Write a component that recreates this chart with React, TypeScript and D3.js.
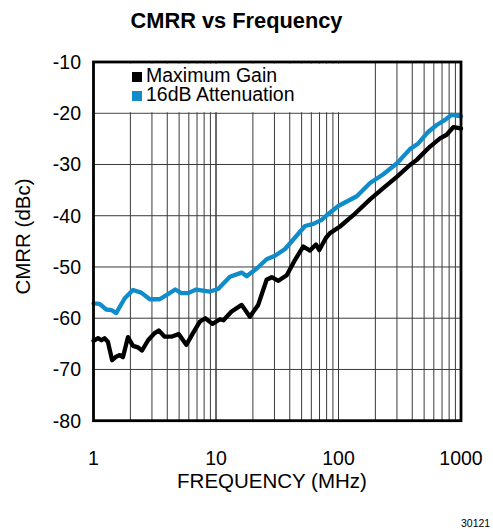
import React from "react";
import * as d3 from "d3";

const maxGainFreq = [1, 1.09, 1.16, 1.23, 1.31, 1.42, 1.53, 1.64, 1.74, 1.91, 2.1, 2.31, 2.49, 2.79, 3.16, 3.41, 3.81, 4.32, 4.96, 5.72, 6.49, 7.36, 8.18, 9.36, 10.8, 11.5, 13.4, 16.2, 18.9, 22.1, 25.9, 28.5, 32.3, 37.8, 44.2, 51.6, 58.5, 65.5, 69.7, 79.1, 85.2, 102.9, 132, 181, 232, 299, 383, 435, 559, 674, 764, 865, 968, 1000];
const maxGainVal = [-64.4, -63.9, -64.3, -63.9, -64.6, -68.2, -67.5, -67.2, -67.6, -63.7, -65.4, -65.7, -66.3, -64.3, -62.9, -62.4, -63.6, -63.6, -63.1, -65.2, -62.9, -60.7, -60.0, -61.1, -60.2, -60.4, -58.7, -57.4, -59.7, -57.4, -52.5, -52.0, -52.7, -51.6, -48.6, -46.0, -46.8, -45.6, -46.7, -44.3, -43.4, -42.1, -39.9, -36.8, -34.6, -32.4, -30.1, -29.1, -26.5, -24.9, -24.2, -22.7, -22.9, -23.0];

const attenFreq = [1, 1.12, 1.27, 1.4, 1.53, 1.8, 2.1, 2.45, 2.88, 3.47, 4.06, 4.65, 5.21, 5.91, 6.91, 7.83, 8.93, 10.4, 13.0, 16.2, 17.8, 21.5, 25.9, 30.3, 36.6, 43.3, 53.3, 62.3, 72.9, 80.1, 99.6, 141, 181, 232, 299, 383, 448, 541, 634, 740, 839, 951, 1000];
const attenVal = [-57.1, -57.2, -58.3, -58.4, -59.0, -56.1, -54.5, -55.0, -56.3, -56.3, -55.3, -54.4, -55.1, -55.1, -54.4, -54.6, -54.8, -54.3, -51.9, -51.1, -51.8, -50.3, -48.5, -47.8, -46.5, -44.5, -42.0, -41.6, -40.8, -39.9, -38.1, -36.2, -33.6, -31.9, -29.8, -27.0, -25.9, -23.6, -22.3, -21.3, -20.3, -20.5, -20.6];

const yTicks = [-10, -20, -30, -40, -50, -60, -70, -80];
const xTicks = [1, 10, 100, 1000];
const xTickLabels = ["1", "10", "100", "1000"];
const seriesNames = ["Maximum Gain", "16dB Attenuation"];
const seriesColors = ["#000000", "#0f8cc9"];

const FONT = "'Liberation Sans', Arial, Helvetica, sans-serif";

export default function App() {
  const x = d3.scaleLog().domain([1, 1000]).range([93.5, 461]);
  const y = d3.scaleLinear().domain([-80, -10]).range([420.7, 62]);

  const minor: number[] = [];
  for (const dec of [1, 10, 100]) {
    for (let k = 1; k <= 10; k++) minor.push(dec * k);
  }

  const line = d3
    .line<[number, number]>()
    .x((d) => x(d[0]))
    .y((d) => y(d[1]));

  const s1 = maxGainFreq.map((f, i) => [f, maxGainVal[i]] as [number, number]);
  const s2 = attenFreq.map((f, i) => [f, attenVal[i]] as [number, number]);

  const [x0, x1] = x.range();
  const [yb, yt] = y.range();

  return (
    <svg
      width={493}
      height={529}
      style={{ position: "absolute", left: 0, top: 0, background: "#fff" }}
      fontFamily={FONT}
    >
      <rect x={0} y={0} width={493} height={529} fill="#fff" />
      <text x={236.5} y={28} textAnchor="middle" fontSize={21.8} fontWeight="bold">
        CMRR vs Frequency
      </text>
      {/* grid */}
      {minor.map((f) => (
        <line key={"v" + f} x1={x(f)} x2={x(f)} y1={yt} y2={yb} stroke="#3a3a3a" strokeWidth={1} />
      ))}
      {yTicks.map((t) => (
        <line key={"h" + t} x1={x0} x2={x1} y1={y(t)} y2={y(t)} stroke="#3a3a3a" strokeWidth={1} />
      ))}
      {/* legend background */}
      <rect x={95} y={63.5} width={277} height={y(-20) - 64.5} fill="#fff" />
      {/* data */}
      <path d={line(s1) || ""} fill="none" stroke={seriesColors[0]} strokeWidth={4.3} strokeLinejoin="round" strokeLinecap="round" />
      <path d={line(s2) || ""} fill="none" stroke={seriesColors[1]} strokeWidth={4.3} strokeLinejoin="round" strokeLinecap="round" />
      {/* frame */}
      <rect x={x0} y={yt} width={x1 - x0} height={yb - yt} fill="none" stroke="#000" strokeWidth={2.8} />
      {/* legend */}
      {seriesNames.map((n, i) => (
        <g key={n}>
          <rect x={132} y={72 + i * 19} width={10} height={10} fill={seriesColors[i]} />
          <text x={146} y={81.5 + i * 19} fontSize={19.5}>
            {n}
          </text>
        </g>
      ))}
      {/* y ticks */}
      {yTicks.map((t) => (
        <text key={"yl" + t} x={81} y={y(t) + 7} textAnchor="end" fontSize={19.5}>
          {t}
        </text>
      ))}
      {xTicks.map((t, i) => (
        <text key={"xl" + t} x={x(t)} y={465} textAnchor="middle" fontSize={19.5}>
          {xTickLabels[i]}
        </text>
      ))}
      <text x={272} y={488} textAnchor="middle" fontSize={20.5}>
        FREQUENCY (MHz)
      </text>
      <text transform="translate(30,236.5) rotate(-90)" textAnchor="middle" fontSize={20.5}>
        CMRR (dBc)
      </text>
      <text x={461} y={527} fontSize={10.5}>
        30121
      </text>
    </svg>
  );
}
